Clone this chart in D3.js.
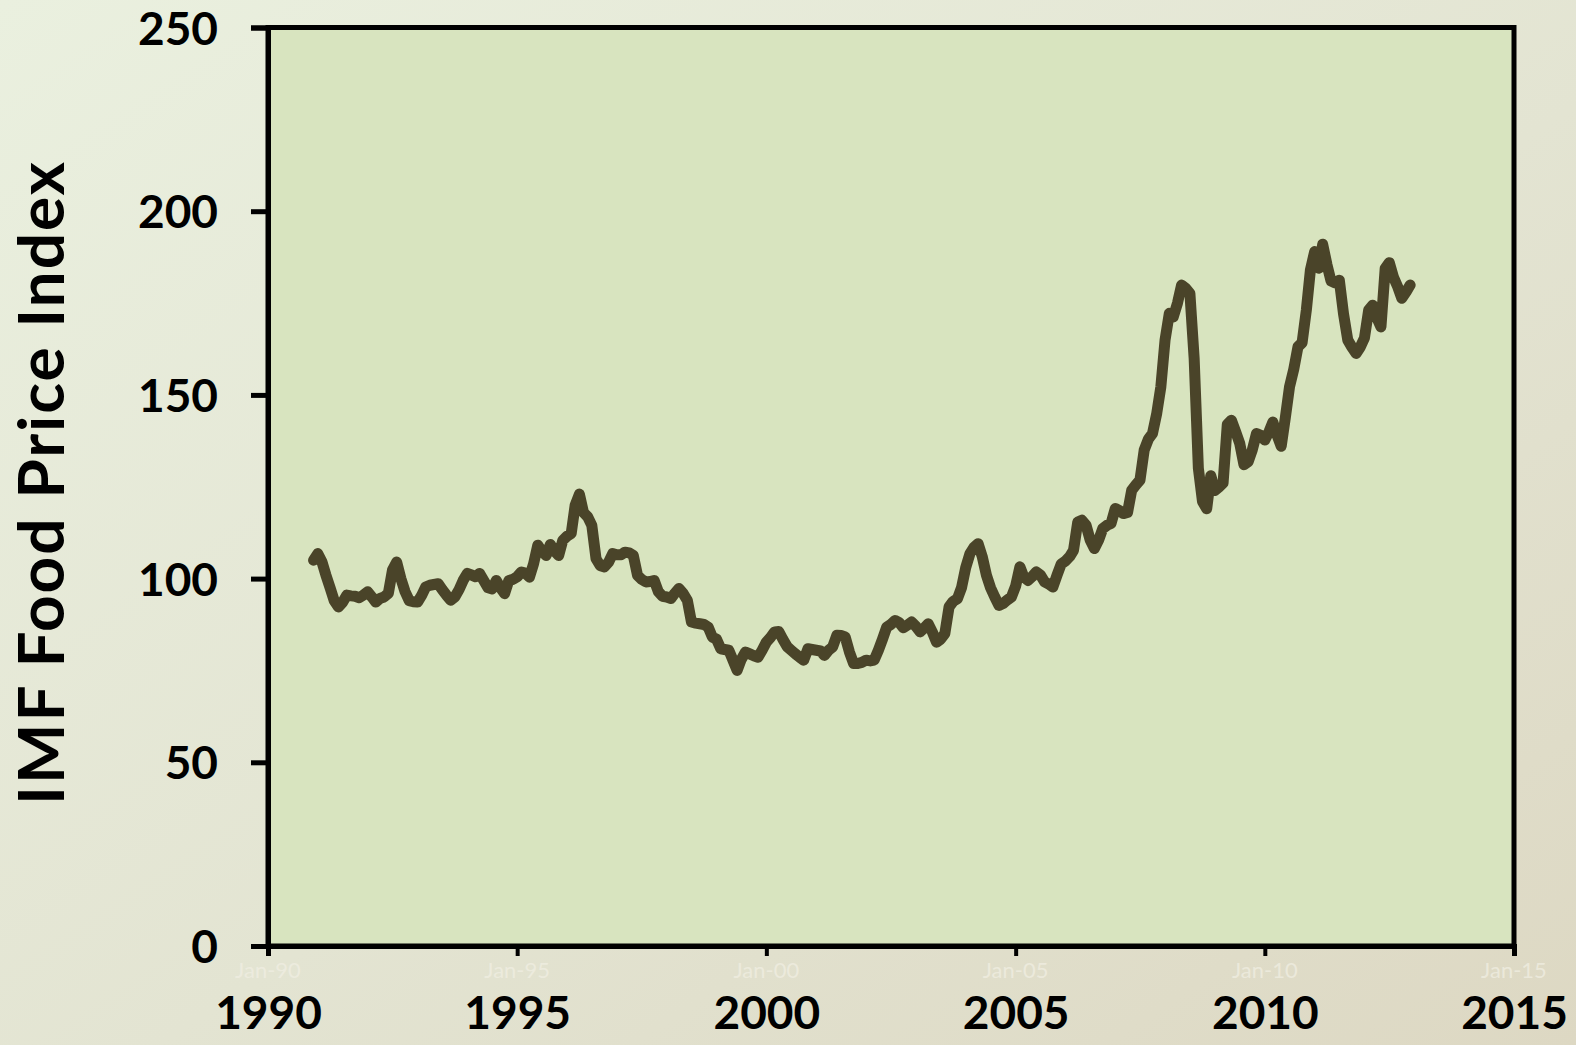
<!DOCTYPE html>
<html>
<head>
<meta charset="utf-8">
<script src="https://cdn.jsdelivr.net/npm/d3@7"></script>
<style>
  html, body { margin: 0; padding: 0; overflow: hidden; }
  svg { display: block; }
</style>
</head>
<body>
<svg id="chart" width="1576" height="1045"></svg>
<script>
// ---------------- data ----------------
const firstMonth = "1990-12";           // first monthly observation
const foodIndex = [
  105,
  106.8,104.5,101,97.5,94,92.3,93.5,95.5,95.3,95.2,94.8,95.5,
  96.4,95,93.6,94.6,95,96,102.3,104.5,100,96.5,94,93.7,
  93.6,95.5,97.7,98.2,98.4,98.6,97,95.5,94.1,95,97,99.5,
  101.4,101,100.5,101.4,99.5,97.5,97.2,99.5,97.5,95.9,99.5,99.8,
  100.5,101.8,101.5,100.4,104,109.1,107.5,106.3,109.3,107.5,106.3,110.4,
  111.5,112.3,120,123,118,116.8,114.5,105.4,103.5,103.2,104.5,106.8,
  106.5,106.5,107.2,107,106.3,100.9,99.8,99.1,99.2,99.5,96.4,95.2,
  95,94.6,96,97.3,96,94.1,88.2,87.9,87.7,87.5,86.8,84.1,
  83.5,80.9,80.7,80.5,77.8,75,78,80,79.5,79,78.6,80.5,
  82.7,84,85.5,85.6,83.5,81.5,80.5,79.5,78.6,77.8,80.9,80.7,
  80.5,80.3,79.1,80.5,81.4,84.6,84.5,84.1,80,76.9,76.9,77.2,
  77.8,77.6,77.8,80.5,83.5,86.8,87.5,88.6,88,86.6,87.4,88.2,
  87,85.5,86.5,87.7,85.5,82.7,83.5,85,92.3,93.8,94.5,97.5,
  103,106.8,108.5,109.5,106,100.9,97.5,95,92.7,93.2,94.2,95,
  98,103.2,100.5,99.5,100.5,101.8,101,99.1,98.5,97.7,101,104,
  104.8,106,107.7,115.4,115.9,114.5,110.5,108.2,110.5,113.6,114.5,115,
  119.1,118.5,117.7,118,124,125.5,126.8,135,138,139.5,145,152.2,
  165,172.2,171.2,175,179.9,179,177.6,160,130,121,119,128,
  124,125,126,142,143.1,140,136.8,131,131.8,135,139.5,139,
  137.7,140,142.6,139,136,144,152.2,157,163.1,164.2,173,184,
  189,184.5,191,185.5,181,180.5,181.2,172,164.9,163,161.3,163,
  165.5,173.1,174.4,171,168.5,184.4,186,182,179.4,176.3,178,179.9
];
const yTicks = [0, 50, 100, 150, 200, 250];
const xTickYears = [1990, 1995, 2000, 2005, 2010, 2015];
const xTickLabels = ["1990", "1995", "2000", "2005", "2010", "2015"];
const xFaintLabels = ["Jan-90", "Jan-95", "Jan-00", "Jan-05", "Jan-10", "Jan-15"];
const yTitle = "IMF Food Price Index";

// ---------------- layout ----------------
const W = 1576, H = 1045;
const plot = { left: 268, right: 1514, top: 27.5, bottom: 946 };
const FONT = "Lato, 'Open Sans', 'Liberation Sans', sans-serif";

const svg = d3.select("#chart");
const defs = svg.append("defs");
const bg = defs.append("linearGradient").attr("id", "bgGrad")
  .attr("x1", "0%").attr("y1", "0%").attr("x2", "100%").attr("y2", "100%");
bg.append("stop").attr("offset", "0%").attr("stop-color", "#eaf0df");
bg.append("stop").attr("offset", "55%").attr("stop-color", "#e3e4d2");
bg.append("stop").attr("offset", "100%").attr("stop-color", "#ddd8c3");

svg.append("rect").attr("width", W).attr("height", H).attr("fill", "url(#bgGrad)");

const parseMonth = d3.timeParse("%Y-%m");
const start = parseMonth(firstMonth);
const series = foodIndex.map((v, i) => ({ date: d3.timeMonth.offset(start, i), value: v }));

const x = d3.scaleTime()
  .domain([new Date(1990, 0, 1), new Date(2015, 0, 1)])
  .range([plot.left, plot.right]);
const y = d3.scaleLinear().domain([0, 250]).range([plot.bottom, plot.top]);

// plot area
svg.append("rect")
  .attr("x", plot.left).attr("y", plot.top)
  .attr("width", plot.right - plot.left).attr("height", plot.bottom - plot.top)
  .attr("fill", "#d8e4bf")
  .attr("stroke", "#000").attr("stroke-width", 5);

// line
const line = d3.line().x(d => x(d.date)).y(d => y(d.value)).curve(d3.curveLinear);
svg.append("path").datum(series)
  .attr("d", line)
  .attr("fill", "none")
  .attr("stroke", "#4a4429")
  .attr("stroke-width", 11)
  .attr("stroke-linejoin", "round")
  .attr("stroke-linecap", "round");

// y axis
const yAxis = d3.axisLeft(y).tickValues(yTicks).tickSize(17).tickPadding(50).tickFormat(d3.format("d"));
const gy = svg.append("g").attr("transform", `translate(${plot.left},0)`).call(yAxis);
gy.select(".domain").attr("stroke", "#000").attr("stroke-width", 5);
gy.selectAll(".tick line").attr("stroke", "#000").attr("stroke-width", 5);
gy.selectAll(".tick text")
  .attr("fill", "#000")
  .attr("font-family", FONT).attr("font-weight", 700).attr("font-size", 46)
  .attr("x", -50).attr("dy", "0.36em");

// x axis
const xTickDates = xTickYears.map(yr => new Date(yr, 0, 1));
const xAxis = d3.axisBottom(x).tickValues(xTickDates).tickSize(10)
  .tickFormat((d, i) => xTickLabels[i]);
const gx = svg.append("g").attr("transform", `translate(0,${plot.bottom})`).call(xAxis);
gx.select(".domain").attr("stroke", "#000").attr("stroke-width", 5);
gx.selectAll(".tick line").attr("stroke", "#000").attr("stroke-width", 4);
gx.selectAll(".tick text")
  .attr("fill", "#000")
  .attr("font-family", FONT).attr("font-weight", 700).attr("font-size", 46)
  .attr("y", 83).attr("dy", 0);

// faint original date labels
svg.append("g").selectAll("text").data(xTickDates).join("text")
  .attr("x", d => x(d)).attr("y", 978)
  .attr("text-anchor", "middle")
  .attr("font-family", FONT).attr("font-size", 22)
  .attr("fill", "#f0eee2").attr("fill-opacity", 0.75)
  .text((d, i) => xFaintLabels[i]);

// y title
const title = svg.append("text")
  .attr("transform", `translate(64,${482.5}) rotate(-90)`)
  .attr("text-anchor", "middle")
  .attr("font-family", FONT).attr("font-weight", 700).attr("font-size", 64)
  .attr("fill", "#000")
  .text(yTitle);
const len = title.node().getComputedTextLength();
const target = 643;
if (len < target) {
  title.attr("letter-spacing", ((target - len) / (yTitle.length - 1)).toFixed(2));
}
</script>
</body>
</html>
